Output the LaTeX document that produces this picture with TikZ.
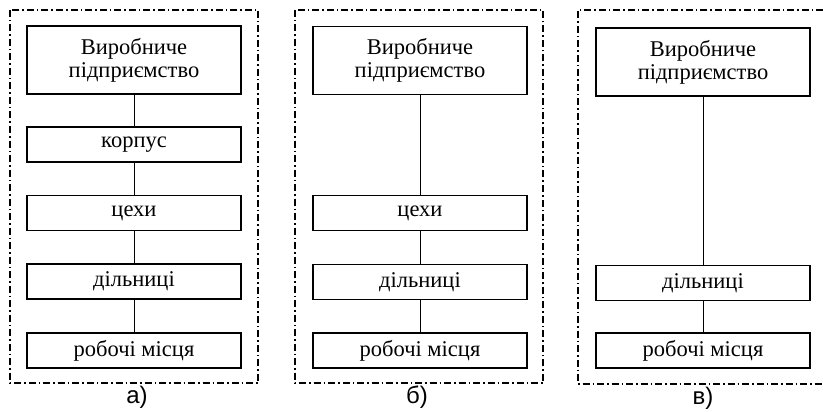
\documentclass[tikz,border=0pt]{standalone}
\usepackage{fontspec}
\setmainfont{Liberation Serif}
\newfontfamily\labfont{Liberation Sans}
\begin{document}
\begin{tikzpicture}[x=1pt,y=-1pt,
  bigbox/.style={draw, line width=1.5pt, minimum width=214pt, minimum height=68pt, inner sep=0pt, align=center, font=\fontsize{22.5}{23}\selectfont},
  smallbox/.style={draw, line width=1.5pt, minimum width=214pt, minimum height=35pt, inner sep=0pt, font=\fontsize{22.5}{23}\selectfont},
  link/.style={line width=1pt},
  frame/.style={line width=1.4pt, dash pattern=on 7pt off 3pt on 1.5pt off 3pt},
  lab/.style={font=\labfont\fontsize{24}{26}\selectfont}]
\useasboundingbox (0,0) rectangle (823,412);
% panel a
\draw[frame] (10,10) rectangle (258,383);
\node[bigbox] (a1) at (134,60) {Виробниче\\підприємство};
\node[smallbox] (a2) at (134,144.5) {корпус};
\node[smallbox] (a3) at (134,213) {цехи};
\node[smallbox] (a4) at (134,281.5) {дільниці};
\node[smallbox] (a5) at (134,350.5) {робочі місця};
\draw[link] (a1) -- (a2);
\draw[link] (a2) -- (a3);
\draw[link] (a3) -- (a4);
\draw[link] (a4) -- (a5);
\node[lab] (la) at (137,397) {а)};
% panel b
\draw[frame] (295,10) rectangle (543,383);
\node[bigbox] (b1) at (420,60.5) {Виробниче\\підприємство};
\node[smallbox] (b3) at (420,213) {цехи};
\node[smallbox] (b4) at (420,282) {дільниці};
\node[smallbox] (b5) at (420,350.5) {робочі місця};
\draw[link] (b1) -- (b3);
\draw[link] (b3) -- (b4);
\draw[link] (b4) -- (b5);
\node[lab] (lb) at (417,397) {б)};
% panel c
\draw[frame] (823,10) -- (578,10) -- (578,384) -- (823,384);
\node[bigbox] (c1) at (703,62) {Виробниче\\підприємство};
\node[smallbox] (c4) at (703,283) {дільниці};
\node[smallbox] (c5) at (703,350.5) {робочі місця};
\draw[link] (c1) -- (c4);
\draw[link] (c4) -- (c5);
\node[lab] (lc) at (703,398) {в)};
\end{tikzpicture}
\end{document}
